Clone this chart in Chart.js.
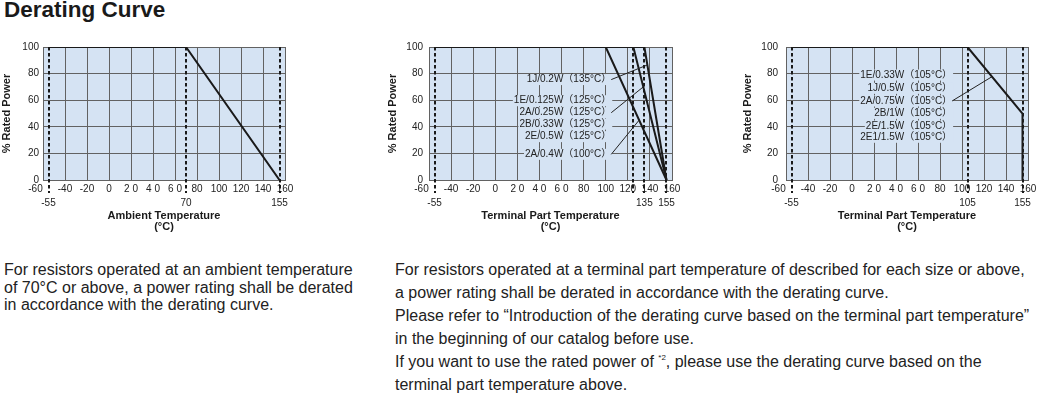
<!DOCTYPE html>
<html>
<head>
<meta charset="utf-8">
<title>Derating Curve</title>
<script src="https://cdn.jsdelivr.net/npm/chart.js"></script>
<style>
    body { margin: 0; width: 1040px; height: 396px; position: relative; background: #fff; overflow: hidden;
           font-family: "Liberation Sans", Arial, sans-serif; color: #222; }
    h1 { position: absolute; left: 4px; top: -1px; margin: 0; font-size: 22.5px; line-height: 22px; font-weight: bold; color: #1a1a1a; }
    .box { position: absolute; }
    .para { position: absolute; margin: 0; font-size: 16px; white-space: nowrap; }
    .para sup { font-size: 8px; line-height: 0; vertical-align: 7px; }
</style>
</head>
<body>
<h1>Derating Curve</h1>
<div class="box" style="left:0;top:38px"><canvas id="ambient" width="300" height="202"></canvas></div>
<div class="box" style="left:380px;top:38px"><canvas id="terminal" width="310" height="202"></canvas></div>
<div class="box" style="left:735px;top:38px"><canvas id="terminal105" width="305" height="202"></canvas></div>

<p class="para" style="left:4px;top:261px;line-height:17.5px">For resistors operated at an ambient temperature<br>of 70°C or above, a power rating shall be derated<br>in accordance with the derating curve.</p>
<p class="para" style="left:395px;top:258px;line-height:23px">For resistors operated at a terminal part temperature of described for each size or above,<br>a power rating shall be derated in accordance with the derating curve.<br>Please refer to “Introduction of the derating curve based on the terminal part temperature”<br>in the beginning of our catalog before use.<br>If you want to use the rated power of <sup>*2</sup>, please use the derating curve based on the<br>terminal part temperature above.</p>

<script>
    // axis ticks shared by all three charts
    const tempTicks = [-60, -40, -20, 0, 20, 40, 60, 80, 100, 120, 140, 160];
    const tempTickLabels = ['-60', '-40', '-20', '0', '2 0', '4 0', '6 0', '80', '100', '120', '140', '160'];
    const powerTicks = [0, 10, 20, 30, 40, 50, 60, 70, 80, 90, 100];
    const powerTickLabels = ['0', '', '20', '', '40', '', '60', '', '80', '', '100'];

    // ambient temperature curve
    const ambientTemp = [-55, 70, 155];
    const ambientPower = [100, 100, 0];
    const ambientMarks = [-55, 70, 155];
    const ambientMarkLabels = [-55, 70, 155];

    // terminal part temperature curves
    const temp135 = [-55, 135, 155];
    const power135 = [100, 100, 0];
    const temp125 = [-55, 125, 155];
    const power125 = [100, 100, 0];
    const temp100 = [-55, 100, 155];
    const power100 = [100, 100, 0];
    const terminalMarks = [-55, 125, 135, 155];
    const terminalMarkLabels = [-55, 135, 155];
    const terminalSizes = ['1J/0.2W（135°C）', '1E/0.125W（125°C）', '2A/0.25W（125°C）',
                           '2B/0.33W（125°C）', '2E/0.5W（125°C）', '2A/0.4W（100°C）'];

    // terminal part temperature curve, 105°C sizes
    const temp105 = [-55, 105, 155, 155];
    const power105 = [100, 100, 50, 0];
    const marks105 = [-55, 105, 155];
    const markLabels105 = [-55, 105, 155];
    const sizes105 = ['1E/0.33W（105°C）', '1J/0.5W（105°C）', '2A/0.75W（105°C）',
                      '2B/1W（105°C）', '2E/1.5W（105°C）', '2E1/1.5W（105°C）'];

    const PLOT_FILL = '#d5e3f3';
    const GRID = '#626262';
    const INK = '#1a1a1a';
    const FONT = '"Liberation Sans", Arial, sans-serif';
    const NOTE_FONT = '10px "Liberation Sans", "Noto Sans CJK JP", sans-serif';

    function toPoints(xs, ys) {
        return xs.map((x, i) => ({ x: x, y: ys[i] }));
    }

    // x on a polyline for a given power level
    function tempAtPower(xs, ys, p) {
        for (let i = 0; i < xs.length - 1; i++) {
            const y0 = ys[i], y1 = ys[i + 1];
            if (y0 !== y1 && (p - y0) * (p - y1) <= 0) {
                return xs[i] + (p - y0) / (y1 - y0) * (xs[i + 1] - xs[i]);
            }
        }
        return xs[xs.length - 1];
    }

    function deratingPlugin(cfg) {
        return {
            id: 'derating',
            beforeDraw(chart) {
                const a = chart.chartArea, ctx = chart.ctx;
                ctx.save();
                ctx.fillStyle = PLOT_FILL;
                ctx.fillRect(a.left, a.top, a.right - a.left, a.bottom - a.top);
                ctx.restore();
            },
            beforeDatasetsDraw(chart) {
                const a = chart.chartArea, ctx = chart.ctx, xs = chart.scales.x;
                ctx.save();
                ctx.strokeStyle = INK;
                ctx.lineWidth = 2;
                ctx.setLineDash([3.5, 2.5]);
                cfg.marks.forEach(v => {
                    const px = Math.round(xs.getPixelForValue(v));
                    ctx.beginPath();
                    ctx.moveTo(px, a.top);
                    ctx.lineTo(px, a.bottom + 13);
                    ctx.stroke();
                });
                ctx.restore();
            },
            afterDatasetsDraw(chart) {
                if (!cfg.notes) return;
                const ctx = chart.ctx, xs = chart.scales.x, ys = chart.scales.y;
                const right = xs.getPixelForValue(cfg.noteX);
                ctx.save();
                ctx.font = NOTE_FONT;
                ctx.textAlign = 'right';
                ctx.textBaseline = 'middle';
                cfg.notes.forEach((t, i) => {
                    const py = ys.getPixelForValue(cfg.noteY[i]);
                    const w = ctx.measureText(t).width;
                    ctx.fillStyle = PLOT_FILL;
                    ctx.fillRect(right - w - 1, py - 5.5, w + 2, 11);
                    ctx.fillStyle = '#222';
                    ctx.fillText(t, right, py);
                });
                ctx.strokeStyle = '#222';
                ctx.lineWidth = 1;
                cfg.leaders.forEach(l => {
                    const s = cfg.series[l.series];
                    const tx = tempAtPower(s[0], s[1], l.power);
                    const py = ys.getPixelForValue(cfg.noteY[l.note]);
                    ctx.beginPath();
                    ctx.moveTo(right, py);
                    ctx.lineTo(xs.getPixelForValue(tx), ys.getPixelForValue(l.power));
                    ctx.stroke();
                });
                ctx.restore();
            }
        };
    }

    function makeChart(id, cfg) {
        const ctx = document.getElementById(id).getContext('2d');
        const tickFont = { family: FONT, size: 10 };
        return new Chart(ctx, {
            type: 'scatter',
            data: {
                datasets: cfg.series.map(s => ({
                    data: toPoints(s[0], s[1]),
                    showLine: true,
                    borderColor: INK,
                    borderWidth: 2,
                    pointRadius: 0,
                    tension: 0
                }))
            },
            options: {
                responsive: false,
                animation: false,
                events: [],
                layout: { padding: { top: 9, right: cfg.padRight, left: 0, bottom: 0 } },
                plugins: { legend: { display: false }, tooltip: { enabled: false } },
                scales: {
                    x: {
                        type: 'linear', position: 'bottom', min: -60, max: 160, weight: 0,
                        afterBuildTicks: s => { s.ticks = tempTicks.map(v => ({ value: v })); },
                        afterFit: s => { s.height = 14; s.paddingLeft = 0; s.paddingRight = 0; },
                        ticks: {
                            autoSkip: false, maxRotation: 0, padding: 3, color: '#222', font: tickFont,
                            callback: v => {
                                const t = tempTickLabels[tempTicks.indexOf(v)];
                                // first label sits left of the -55 mark in the printed sheet
                                return v === -60 ? t + '\u2002\u2002\u2002' : t;
                            }
                        },
                        grid: { color: GRID, lineWidth: 1, drawTicks: false },
                        border: { color: GRID }
                    },
                    x2: {
                        type: 'linear', position: 'bottom', min: -60, max: 160, weight: 1,
                        afterBuildTicks: s => { s.ticks = cfg.markLabels.map(v => ({ value: v })); },
                        afterFit: s => { s.height = 46; s.paddingLeft = 0; s.paddingRight = 0; },
                        ticks: { autoSkip: false, maxRotation: 0, padding: 3, color: '#222', font: tickFont },
                        grid: { display: false, drawTicks: false },
                        border: { display: false },
                        title: {
                            display: true, text: [cfg.xTitle, '(°C)'], color: INK,
                            font: { family: FONT, size: 11, weight: 'bold', lineHeight: 1.05 },
                            padding: { top: 0, bottom: 7 }
                        }
                    },
                    y: {
                        type: 'linear', min: 0, max: 100,
                        afterBuildTicks: s => { s.ticks = powerTicks.map(v => ({ value: v })); },
                        afterFit: s => { s.width = cfg.yWidth; s.paddingTop = 0; s.paddingBottom = 0; },
                        ticks: {
                            padding: cfg.yTickPad, color: '#222', font: tickFont,
                            callback: v => powerTickLabels[powerTicks.indexOf(v)]
                        },
                        grid: { color: GRID, lineWidth: 1, drawTicks: false },
                        border: { color: GRID },
                        title: {
                            display: true, text: '% Rated Power', color: INK,
                            font: { family: FONT, size: 11, weight: 'bold' },
                            padding: { top: cfg.yTitlePad, bottom: 0 }
                        }
                    }
                }
            },
            plugins: [deratingPlugin(cfg)]
        });
    }

    makeChart('ambient', {
        series: [[ambientTemp, ambientPower]],
        marks: ambientMarks,
        markLabels: ambientMarkLabels,
        xTitle: 'Ambient Temperature',
        yWidth: 43, yTickPad: 4, yTitlePad: 0, padRight: 15
    });

    makeChart('terminal', {
        series: [[temp135, power135], [temp125, power125], [temp100, power100]],
        marks: terminalMarks,
        markLabels: terminalMarkLabels,
        xTitle: 'Terminal Part Temperature',
        yWidth: 49, yTickPad: 6, yTitlePad: 6, padRight: 18,
        notes: terminalSizes,
        noteX: 105,
        noteY: [75.5, 59.6, 50.6, 42, 32.6, 19.3],
        leaders: [
            { note: 0, series: 0, power: 86.5 },
            { note: 2, series: 1, power: 70 },
            { note: 5, series: 2, power: 45 }
        ]
    });

    makeChart('terminal105', {
        series: [[temp105, power105]],
        marks: marks105,
        markLabels: markLabels105,
        xTitle: 'Terminal Part Temperature',
        yWidth: 51, yTickPad: 8, yTitlePad: 6, padRight: 12,
        notes: sizes105,
        noteX: 91,
        noteY: [78.9, 68.9, 59.4, 50.1, 40.6, 32.1],
        leaders: [
            { note: 2, series: 0, power: 77.7 }
        ]
    });
</script>
</body>
</html>
